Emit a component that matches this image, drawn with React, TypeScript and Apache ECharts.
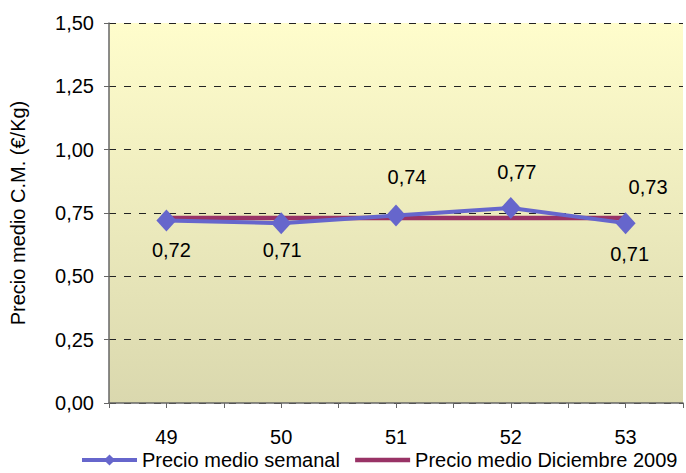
import React, { useEffect, useRef } from "react";
import * as echarts from "echarts";

const weeks = [49, 50, 51, 52, 53];
const weeklyPrice = [0.72, 0.71, 0.74, 0.77, 0.71];
const decemberAvg = [0.73, 0.73, 0.73, 0.73, 0.73];
const seriesNames = ["Precio medio semanal", "Precio medio Diciembre 2009"];
const yAxisTitle = "Precio medio C.M. (€/Kg)";

// label placement (style, not data)
const weeklyLabelOffsets = [
  [5, 29],
  [1, 27],
  [11, -39],
  [6, -36],
  [4, 31],
];

const FONT = "Liberation Sans, Arial, sans-serif";
const fmt = (v: number) => v.toFixed(2).replace(".", ",");

export default function App() {
  const ref = useRef<HTMLDivElement>(null);
  useEffect(() => {
    if (!ref.current) return;
    const chart = echarts.init(ref.current, undefined, { renderer: "svg" });
    chart.setOption({
      animation: false,
      backgroundColor: "#ffffff",
      textStyle: { fontFamily: FONT },
      grid: {
        left: 101,
        right: 0,
        top: 23,
        bottom: 70,
        show: true,
        borderWidth: 0,
        backgroundColor: new echarts.graphic.LinearGradient(0, 0, 0, 1, [
          { offset: 0, color: "#FFFDCC" },
          { offset: 1, color: "#DAD8AE" },
        ]),
      },
      legend: {
        left: 80,
        top: 450,
        padding: 0,
        itemWidth: 55,
        itemHeight: 14,
        itemGap: 13,
        data: [
          { name: seriesNames[0], lineStyle: { width: 4 } },
          {
            name: seriesNames[1],
            itemStyle: { opacity: 0 },
            lineStyle: { width: 4.5 },
          },
        ],
        textStyle: { fontSize: 20, color: "#000", fontFamily: FONT },
      },
      xAxis: {
        type: "value",
        min: 48.5,
        max: 53.5,
        interval: 0.5,
        axisLine: { show: true, lineStyle: { color: "#666", width: 1.5 } },
        axisTick: { show: true, length: 5, lineStyle: { color: "#666" } },
        splitLine: { show: false },
        axisLabel: {
          margin: 24,
          fontSize: 20,
          color: "#000",
          fontFamily: FONT,
          formatter: (v: number) => (Number.isInteger(v) ? String(v) : ""),
        },
      },
      yAxis: {
        type: "value",
        min: 0,
        max: 1.5,
        interval: 0.25,
        name: yAxisTitle,
        nameLocation: "middle",
        nameGap: 81,
        nameTextStyle: { fontSize: 20, color: "#000", fontFamily: FONT },
        axisLine: { show: true, lineStyle: { color: "#666", width: 1.5 } },
        axisTick: { show: true, length: 5, lineStyle: { color: "#666" } },
        axisLabel: {
          margin: 15,
          fontSize: 20,
          color: "#000",
          fontFamily: FONT,
          formatter: (v: number) => fmt(v),
        },
        splitLine: {
          show: true,
          lineStyle: { color: "#222", type: [7, 8], width: 1 },
        },
      },
      series: [
        {
          name: seriesNames[0],
          type: "line",
          z: 3,
          data: weeks.map((w, i) => ({
            value: [w, weeklyPrice[i]],
            label: { offset: weeklyLabelOffsets[i] },
          })),
          symbol: "diamond",
          symbolSize: [20, 22],
          lineStyle: { color: "#6666CC", width: 4 },
          itemStyle: { color: "#6666CC" },
          label: {
            show: true,
            position: "inside",
            fontSize: 20,
            color: "#000",
            fontFamily: FONT,
            formatter: (p: any) => fmt(p.value[1]),
          },
        },
        {
          name: seriesNames[1],
          type: "line",
          z: 2,
          data: weeks.map((w, i) => [w, decemberAvg[i]]),
          symbol: "none",
          lineStyle: { color: "#993366", width: 4.5 },
          itemStyle: { color: "#993366" },
          endLabel: {
            show: true,
            distance: 3,
            offset: [0, -31],
            fontSize: 20,
            color: "#000",
            fontFamily: FONT,
            formatter: (p: any) => fmt(p.value[1]),
          },
        },
      ],
    });
    return () => chart.dispose();
  }, []);
  return (
    <div
      ref={ref}
      style={{ position: "fixed", left: 0, top: 0, width: 686, height: 473 }}
    />
  );
}
